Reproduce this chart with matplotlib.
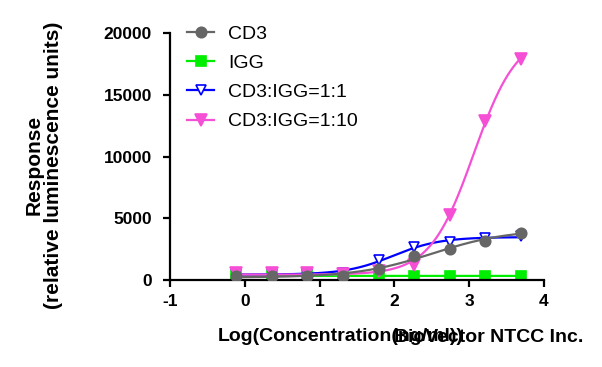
import numpy as np
import matplotlib.pyplot as plt

plt.rcParams['font.family'] = ['Liberation Sans', 'DejaVu Sans']
plt.rcParams['axes.unicode_minus'] = False

# log10 concentration (ng/ml), 3-fold dilution series
log_conc = [-0.12, 0.36, 0.83, 1.31, 1.79, 2.26, 2.74, 3.21, 3.69]

cd3      = [300, 320, 330, 350, 890, 1920, 2500, 3200, 3850]
igg      = [350, 330, 330, 320, 330, 340, 330, 340, 330]
cd3_igg1 = [500, 500, 500, 600, 1600, 2650, 3050, 3400, 3600]
cd3_igg10 = [550, 550, 530, 500, 700, 1250, 5250, 12900, 17900]

series = [
    # label, values, color, marker, facecolor, markersize, zorder
    ("CD3",           cd3,       "#666666", "o", "#666666", 7.5, 5),
    ("IGG",           igg,       "#00ee00", "s", "#00ee00", 7,   2),
    ("CD3:IGG=1:1",   cd3_igg1,  "#0000ff", "v", "white",   7.5, 3),
    ("CD3:IGG=1:10",  cd3_igg10, "#f550d5", "v", "#f550d5", 9,   4),
]


def fit_4pl(x, y):
    """4PL fit: grid over logEC50/hill, bottom/top by linear least squares."""
    x = np.asarray(x, float)
    y = np.asarray(y, float)
    cs = np.arange(0.0, 6.0, 0.01)
    hs = np.arange(0.3, 1.5, 0.01)
    best = None
    for h in hs:
        s = 1.0 / (1.0 + 10.0 ** ((cs[:, None] - x[None, :]) * h))
        a = 1 - s
        saa = (a * a).sum(1); sab = (a * s).sum(1); sbb = (s * s).sum(1)
        say = (a * y).sum(1); sby = (s * y).sum(1)
        det = saa * sbb - sab ** 2
        det[np.abs(det) < 1e-12] = np.nan
        bot = (say * sbb - sby * sab) / det
        top = (saa * sby - sab * say) / det
        res = ((bot[:, None] * a + top[:, None] * s - y) ** 2).sum(1)
        i = np.nanargmin(res)
        if best is None or res[i] < best[0]:
            best = (res[i], bot[i], top[i], cs[i], h)
    _, bot, top, c, h = best
    return lambda t: bot + (top - bot) / (1.0 + 10.0 ** ((c - t) * h))


fig = plt.figure(figsize=(6.02, 3.67), dpi=100)
ax = fig.add_axes([0.2824, 0.2371, 0.6213, 0.6717])

xs = np.linspace(min(log_conc), max(log_conc), 300)
for label, vals, color, marker, face, ms, z in series:
    f = fit_4pl(log_conc, vals)
    ax.plot(xs, f(xs), color=color, linewidth=1.6, zorder=z)
    ax.plot(log_conc, vals, linestyle='none', marker=marker, markersize=ms,
            markerfacecolor=face, markeredgecolor=color, markeredgewidth=1.2,
            zorder=z + 0.5)
    # legend proxy
    ax.plot([], [], color=color, linewidth=1.6, marker=marker, markersize=ms,
            markerfacecolor=face, markeredgecolor=color, markeredgewidth=1.2,
            label=label)

ax.set_xlim(-1, 4)
ax.set_ylim(0, 20000)
ax.set_xticks([-1, 0, 1, 2, 3, 4])
ax.set_yticks([0, 5000, 10000, 15000, 20000])

for sp in ['top', 'right']:
    ax.spines[sp].set_visible(False)
for sp in ['left', 'bottom']:
    ax.spines[sp].set_linewidth(1.6)
ax.tick_params(axis='both', direction='out', length=5, width=1.6,
               labelsize=12.5)
ax.tick_params(axis='y', pad=8)
ax.tick_params(axis='x', pad=5)
for t in ax.get_xticklabels() + ax.get_yticklabels():
    t.set_fontweight('bold')

ax.set_ylabel("Response\n(relative luminescence units)", fontsize=15,
              fontweight='bold', linespacing=1.05)
ax.yaxis.set_label_coords(-0.285, 0.465)

ax.set_xlabel("Log(Concentration(ng/ml))", fontsize=14, fontweight='bold',
              ha='left', va='center')
ax.xaxis.set_label_coords(0.128, -0.231)

fig.text(583 / 602, 1 - 337 / 367, "BioVector NTCC Inc.", fontsize=14,
         fontweight='bold', ha='right', va='center')

ax.legend(loc='upper left', bbox_to_anchor=(187 / 602, 1 - 25 / 367),
          bbox_transform=fig.transFigure, frameon=False, fontsize=14,
          handlelength=1.4, handletextpad=0.7, labelspacing=0.6,
          borderpad=0, borderaxespad=0)

fig.savefig("out.png", dpi=100)
